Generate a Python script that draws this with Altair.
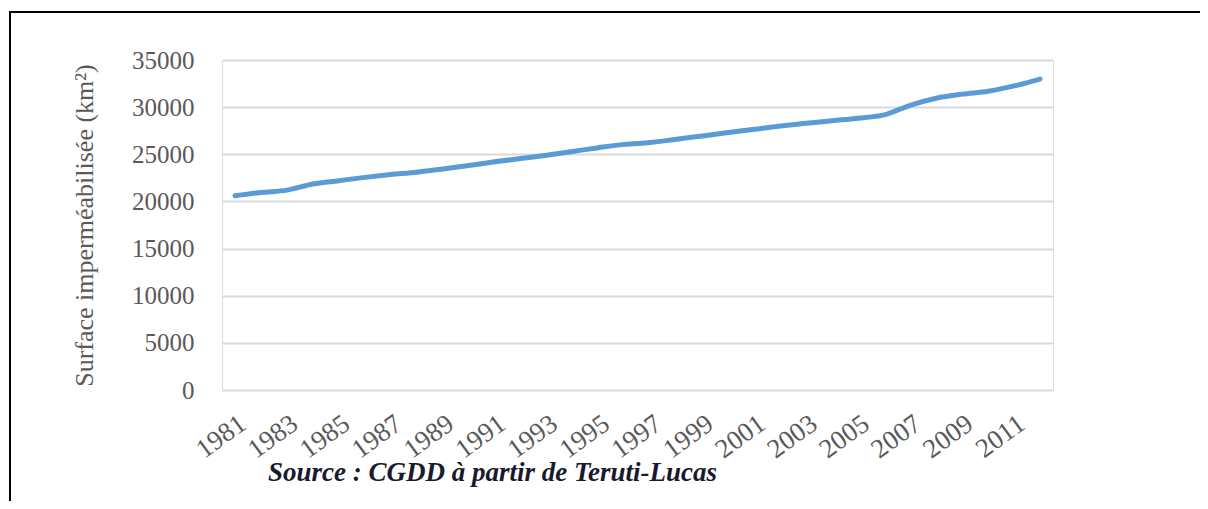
import altair as alt
import pandas as pd

years = list(range(1981, 2013))
surface = [20600, 20950, 21200, 21850, 22200, 22550, 22850, 23100, 23450, 23800,
           24200, 24550, 24900, 25300, 25700, 26050, 26250, 26600, 26950, 27300,
           27650, 28000, 28280, 28560, 28830, 29180, 30200, 30950, 31380, 31680,
           32250, 32980]
label_years = list(range(1981, 2012, 2))
y_ticks = list(range(0, 35001, 5000))

df = pd.DataFrame({"Année": years, "Surface": surface})
one = pd.DataFrame({"k": [0]})

FONT = "Liberation Serif"
W, H = 831, 330

line = alt.Chart(df).mark_line(
    color="#5b9bd5", strokeWidth=5, strokeCap="round", strokeJoin="round",
    interpolate="monotone"
).encode(
    x=alt.X("Année:O", title=None,
            scale=alt.Scale(type="point", padding=0.5),
            axis=alt.Axis(values=label_years, labelAngle=-36, labelFontSize=27,
                          labelFont=FONT, labelColor="#595959", ticks=False,
                          domain=False, grid=False, labelPadding=20)),
    y=alt.Y("Surface:Q", title="Surface imperméabilisée (km²)",
            scale=alt.Scale(domain=[0, 35000], nice=False),
            axis=alt.Axis(values=y_ticks, format="d", labelFontSize=25,
                          labelFont=FONT, labelColor="#595959", ticks=False,
                          domain=False, grid=True, gridColor="#d9d9d9",
                          gridWidth=2, labelPadding=28, titleFont=FONT,
                          titleFontSize=26, titleFontWeight="normal",
                          titleColor="#595959", titlePadding=34))
)

left_rule = alt.Chart(one).mark_rule(color="black", strokeWidth=2).encode(
    x=alt.value(-212), y=alt.value(-48), y2=alt.value(445))
top_rule = alt.Chart(one).mark_rule(color="black", strokeWidth=2).encode(
    x=alt.value(-213), x2=alt.value(990), y=alt.value(-48))

chart = alt.layer(line, left_rule, top_rule).properties(
    width=W, height=H,
    autosize=alt.AutoSizeParams(type="none"),
    padding={"left": 214, "top": 52, "right": 147, "bottom": 111},
    title=alt.TitleParams(
        "Source : CGDD à partir de Teruti-Lucas", orient="bottom",
        anchor="start", frame="group", dx=46, offset=-46,
        font=FONT, fontSize=27, fontStyle="italic", fontWeight="bold",
        color="#1a1a2e")
).configure_view(stroke=None).configure(background="white")

chart.save("out.html", embed_options={"renderer": "svg", "actions": False})
